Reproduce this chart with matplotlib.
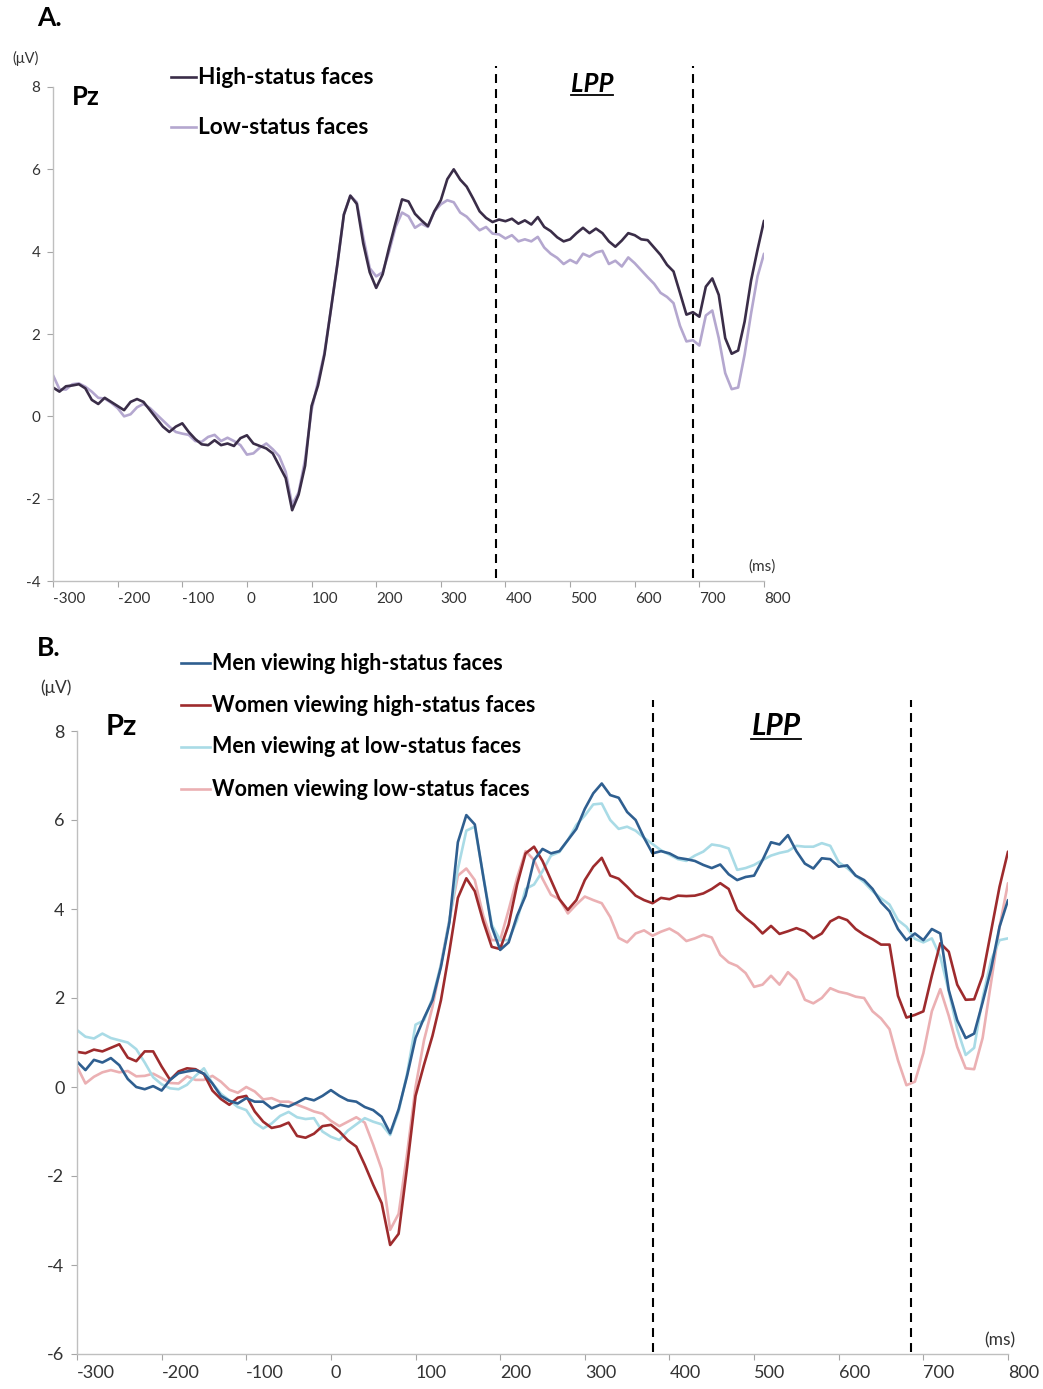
import numpy as np
import matplotlib
matplotlib.use("Agg")
import matplotlib.pyplot as plt
from matplotlib.lines import Line2D

# sampling times (ms), one value every 10 ms
times = list(range(-300, 801, 10))

# Panel A: Pz grand averages (uV)
high_status = [
    0.70, 0.60, 0.73, 0.75, 0.78, 0.68, 0.40, 0.30, 0.45, 0.35,
    0.25, 0.15, 0.35, 0.42, 0.35, 0.15, -0.05, -0.25, -0.38, -0.25,
    -0.17, -0.38, -0.55, -0.68, -0.70, -0.58, -0.70, -0.66, -0.72, -0.53,
    -0.46, -0.66, -0.72, -0.78, -0.90, -1.20, -1.50, -2.28, -1.90, -1.20,
    0.25, 0.75, 1.50, 2.60, 3.70, 4.90, 5.36, 5.16, 4.20, 3.50,
    3.12, 3.45, 4.10, 4.70, 5.27, 5.22, 4.92, 4.76, 4.62, 4.98,
    5.25, 5.76, 6.00, 5.75, 5.58, 5.29, 4.98, 4.82, 4.72, 4.78,
    4.74, 4.80, 4.68, 4.76, 4.66, 4.84, 4.60, 4.50, 4.35, 4.25,
    4.30, 4.45, 4.58, 4.45, 4.56, 4.45, 4.25, 4.12, 4.27, 4.45,
    4.40, 4.30, 4.28, 4.10, 3.92, 3.68, 3.52, 3.00, 2.47, 2.53,
    2.42, 3.15, 3.35, 2.95, 1.90, 1.52, 1.60, 2.30, 3.30, 4.05,
    4.75,
]
low_status = [
    1.00, 0.66, 0.65, 0.78, 0.80, 0.72, 0.60, 0.45, 0.43, 0.33,
    0.20, 0.00, 0.05, 0.22, 0.30, 0.20, 0.05, -0.10, -0.25, -0.38,
    -0.42, -0.45, -0.60, -0.62, -0.50, -0.45, -0.60, -0.52, -0.60, -0.70,
    -0.93, -0.90, -0.76, -0.66, -0.80, -0.97, -1.35, -2.15, -1.85, -1.05,
    0.15, 0.85, 1.55, 2.60, 3.70, 4.90, 5.36, 5.20, 4.35, 3.60,
    3.40, 3.50, 4.00, 4.60, 4.95, 4.86, 4.58, 4.68, 4.60, 4.98,
    5.15, 5.25, 5.20, 4.95, 4.85, 4.68, 4.52, 4.60, 4.44, 4.42,
    4.32, 4.40, 4.25, 4.30, 4.25, 4.36, 4.10, 3.95, 3.85, 3.70,
    3.80, 3.72, 3.95, 3.88, 3.98, 4.02, 3.70, 3.78, 3.64, 3.86,
    3.72, 3.55, 3.38, 3.22, 3.00, 2.90, 2.75, 2.20, 1.82, 1.85,
    1.72, 2.45, 2.57, 1.90, 1.05, 0.66, 0.70, 1.50, 2.50, 3.40,
    3.95,
]

# Panel B: by participant gender
men_high = [
    0.57, 0.38, 0.61, 0.55, 0.65, 0.49, 0.18, 0.00, -0.05, 0.02,
    -0.08, 0.16, 0.31, 0.35, 0.38, 0.30, 0.08, -0.20, -0.31, -0.37,
    -0.25, -0.33, -0.33, -0.48, -0.40, -0.44, -0.35, -0.25, -0.30, -0.20,
    -0.07, -0.20, -0.30, -0.33, -0.45, -0.52, -0.67, -1.04, -0.50, 0.25,
    1.10, 1.55, 1.95, 2.70, 3.70, 5.50, 6.11, 5.90, 4.73, 3.60,
    3.08, 3.25, 3.85, 4.30, 5.10, 5.35, 5.25, 5.30, 5.55, 5.80,
    6.25, 6.60, 6.82, 6.56, 6.50, 6.18, 6.00, 5.60, 5.25, 5.30,
    5.25, 5.15, 5.12, 5.08, 4.99, 4.92, 5.00, 4.78, 4.65, 4.72,
    4.75, 5.10, 5.50, 5.45, 5.66, 5.30, 5.02, 4.91, 5.14, 5.12,
    4.95, 4.98, 4.75, 4.65, 4.45, 4.15, 3.95, 3.55, 3.30, 3.45,
    3.30, 3.55, 3.45, 2.18, 1.50, 1.10, 1.20, 1.90, 2.65, 3.60,
    4.20,
]
women_high = [
    0.79, 0.76, 0.84, 0.80, 0.88, 0.96, 0.66, 0.58, 0.80, 0.80,
    0.46, 0.16, 0.35, 0.42, 0.40, 0.29, -0.08, -0.27, -0.40, -0.24,
    -0.20, -0.55, -0.78, -0.92, -0.88, -0.80, -1.10, -1.14, -1.05, -0.88,
    -0.85, -1.00, -1.20, -1.34, -1.75, -2.20, -2.61, -3.55, -3.30, -1.80,
    -0.20, 0.50, 1.15, 1.95, 3.05, 4.25, 4.69, 4.40, 3.72, 3.15,
    3.10, 3.65, 4.55, 5.25, 5.40, 5.08, 4.65, 4.22, 3.98, 4.20,
    4.65, 4.95, 5.15, 4.75, 4.68, 4.50, 4.30, 4.20, 4.13, 4.25,
    4.22, 4.30, 4.29, 4.30, 4.35, 4.45, 4.58, 4.45, 3.98, 3.80,
    3.65, 3.45, 3.62, 3.44, 3.50, 3.57, 3.50, 3.34, 3.45, 3.72,
    3.82, 3.75, 3.55, 3.42, 3.32, 3.20, 3.20, 2.05, 1.56, 1.62,
    1.70, 2.50, 3.23, 3.04, 2.30, 1.96, 1.97, 2.50, 3.50, 4.50,
    5.29,
]
men_low = [
    1.28, 1.13, 1.09, 1.20, 1.10, 1.05, 1.00, 0.85, 0.55, 0.22,
    0.06, -0.03, -0.05, 0.05, 0.25, 0.42, 0.08, -0.15, -0.30, -0.45,
    -0.52, -0.80, -0.93, -0.82, -0.65, -0.56, -0.68, -0.72, -0.70, -1.00,
    -1.12, -1.19, -0.98, -0.84, -0.70, -0.78, -0.84, -1.08, -0.55, 0.30,
    1.40, 1.50, 2.00, 2.75, 3.75, 4.90, 5.76, 5.85, 4.75, 3.65,
    3.30, 3.30, 3.75, 4.45, 4.55, 4.85, 5.20, 5.28, 5.55, 5.89,
    6.10, 6.35, 6.37, 6.00, 5.80, 5.85, 5.76, 5.60, 5.46, 5.32,
    5.22, 5.12, 5.08, 5.20, 5.29, 5.45, 5.42, 5.36, 4.88, 4.92,
    4.99, 5.10, 5.20, 5.26, 5.30, 5.42, 5.40, 5.40, 5.48, 5.42,
    5.05, 4.92, 4.75, 4.60, 4.40, 4.24, 4.10, 3.75, 3.60, 3.33,
    3.25, 3.34, 2.93, 2.15, 1.30, 0.72, 0.88, 2.00, 2.85, 3.30,
    3.34,
]
women_low = [
    0.46, 0.08, 0.23, 0.33, 0.38, 0.33, 0.36, 0.24, 0.25, 0.30,
    0.20, 0.09, 0.08, 0.24, 0.16, 0.16, 0.25, 0.12, -0.06, -0.13,
    0.00, -0.10, -0.28, -0.25, -0.33, -0.33, -0.40, -0.47, -0.55, -0.60,
    -0.76, -0.88, -0.78, -0.68, -0.80, -1.30, -1.85, -3.21, -2.85, -1.50,
    0.00, 1.05, 1.80, 2.75, 3.75, 4.75, 4.91, 4.65, 3.85, 3.30,
    3.30, 3.98, 4.70, 5.30, 5.10, 4.68, 4.32, 4.22, 3.90, 4.10,
    4.28, 4.20, 4.13, 3.82, 3.35, 3.25, 3.45, 3.52, 3.40, 3.49,
    3.56, 3.45, 3.28, 3.34, 3.42, 3.36, 2.97, 2.80, 2.72, 2.56,
    2.25, 2.30, 2.50, 2.30, 2.58, 2.40, 1.96, 1.88, 2.00, 2.22,
    2.14, 2.10, 2.03, 2.00, 1.70, 1.54, 1.30, 0.60, 0.04, 0.12,
    0.76, 1.70, 2.20, 1.60, 0.90, 0.42, 0.40, 1.10, 2.35, 3.60,
    4.58,
]

x_ticks = list(range(-300, 801, 100))
lpp_a = [385, 690]
lpp_b = [380, 685]

W, H = 1043, 1389
plt.rcParams['font.family'] = ['Lato', 'DejaVu Sans']
plt.rcParams['axes.unicode_minus'] = False

fig = plt.figure(figsize=(W / 100, H / 100), dpi=100)


def fx(px):
    return px / W


def fy(py):
    return 1 - py / H


def style_axis(ax, ylim, yticks, fs):
    ax.set_xlim(-300, 800)
    ax.set_ylim(*ylim)
    for s in ['top', 'right']:
        ax.spines[s].set_visible(False)
    for s in ['left', 'bottom']:
        ax.spines[s].set_color('#bfbfbf')
        ax.spines[s].set_linewidth(1.0)
    ax.set_xticks(x_ticks)
    ax.set_xticklabels([str(v) for v in x_ticks], ha='left')
    ax.set_yticks(yticks)
    ax.tick_params(axis='both', direction='out', length=4, width=0.8,
                   color='#a6a6a6', labelsize=fs, labelcolor='#333333')
    ax.tick_params(axis='x', pad=4)
    ax.tick_params(axis='y', pad=5)


line_kw = dict(lw=1.9, solid_joinstyle='round', solid_capstyle='round')

# ---------------- Panel A ----------------
axA = fig.add_axes([fx(53), fy(581), fx(764 - 53), (581 - 87) / H])
axA.plot(times, low_status, color='#b4a7cf', **line_kw)
axA.plot(times, high_status, color='#3a2d48', **line_kw)
style_axis(axA, (-4, 8), [-4, -2, 0, 2, 4, 6, 8], 11)
for x in lpp_a:
    axA.plot([x, x], [-3.93, 8.52], color='black', lw=1.5,
             dashes=(4.3, 2.9), clip_on=False)

# ---------------- Panel B ----------------
axB = fig.add_axes([fx(77), fy(1354), fx(1008 - 77), (1354 - 731) / H])
axB.plot(times, women_low, color='#ebb0b3', **line_kw)
axB.plot(times, men_low, color='#a9dbe6', **line_kw)
axB.plot(times, women_high, color='#9e2b2d', **line_kw)
axB.plot(times, men_high, color='#2f5f90', **line_kw)
style_axis(axB, (-6, 8), [-6, -4, -2, 0, 2, 4, 6, 8], 13)
for x in lpp_b:
    axB.plot([x, x], [-5.95, 8.7], color='black', lw=1.5,
             dashes=(4.3, 2.9), clip_on=False)

# ---------------- text ----------------
fig.text(fx(37), fy(18), 'A.', fontsize=19, fontweight='bold', va='center')
fig.text(fx(37), fy(648), 'B.', fontsize=19, fontweight='bold', va='center')
fig.text(fx(12), fy(58), '(μV)', fontsize=10.5, color='#333333', va='center')
fig.text(fx(40), fy(688), '(μV)', fontsize=12.5, color='#333333', va='center')
fig.text(fx(72), fy(97), 'Pz', fontsize=18.5, fontweight='bold', va='center')
fig.text(fx(106), fy(727), 'Pz', fontsize=21, fontweight='bold', va='center')
fig.text(fx(748), fy(567), '(ms)', fontsize=11, color='#333333', va='center')
fig.text(fx(984), fy(1340), '(ms)', fontsize=12.5, color='#333333', va='center')

lppA = fig.text(fx(592), fy(84), 'LPP', fontsize=18.5, fontweight='bold',
                style='italic', ha='center', va='center')
lppB = fig.text(fx(776), fy(726), 'LPP', fontsize=21.5, fontweight='bold',
                style='italic', ha='center', va='center')

# legends drawn as sample line + bold label
leg_a = [('High-status faces', '#3a2d48', 77),
         ('Low-status faces', '#b4a7cf', 127)]
for label, col, y in leg_a:
    fig.add_artist(Line2D([fx(171), fx(196)], [fy(y), fy(y)], color=col, lw=1.9))
    fig.text(fx(198), fy(y), label, fontsize=16.3, fontweight='bold',
             va='center')

leg_b = [('Men viewing high-status faces', '#2f5f90', 663),
         ('Women viewing high-status faces', '#9e2b2d', 705),
         ('Men viewing at low-status faces', '#a9dbe6', 747),
         ('Women viewing low-status faces', '#ebb0b3', 789)]
for label, col, y in leg_b:
    fig.add_artist(Line2D([fx(181), fx(210)], [fy(y), fy(y)], color=col, lw=1.9))
    fig.text(fx(212), fy(y), label, fontsize=15.5, fontweight='bold',
             va='center')

# underline the LPP labels
fig.canvas.draw()
for t in (lppA, lppB):
    bb = t.get_window_extent()
    y = bb.y0 + 1
    fig.add_artist(Line2D([bb.x0 / W, bb.x1 / W], [y / H, y / H],
                          color='black', lw=1.3))

fig.savefig('out.png', dpi=100)
